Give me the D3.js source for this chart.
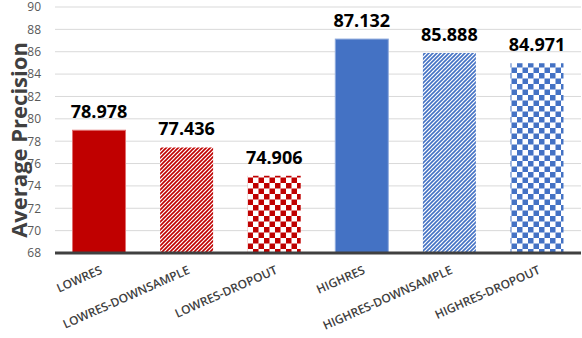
<!DOCTYPE html>
<html>
<head>
<meta charset="utf-8">
<script src="https://cdn.jsdelivr.net/npm/d3@7"></script>
<style>
  body { margin: 0; background: #fff; }
  svg { display: block; font-family: "Open Sans", "Liberation Sans", sans-serif; }
</style>
</head>
<body>
<svg id="chart" width="582" height="338"></svg>
<script>
const categories = ["LOWRES", "LOWRES-DOWNSAMPLE", "LOWRES-DROPOUT", "HIGHRES", "HIGHRES-DOWNSAMPLE", "HIGHRES-DROPOUT"];
const values = [78.978, 77.436, 74.906, 87.132, 85.888, 84.971];
const fills = ["solid", "stripe", "check", "solid", "stripe", "check"];
const groups = ["red", "red", "red", "blue", "blue", "blue"];
const yTicks = [68, 70, 72, 74, 76, 78, 80, 82, 84, 86, 88, 90];

const colors = { red: "#C00000", blue: "#4472C4" };
const edge = { red: "#E07070", blue: "#8FAADC" };

let svg = d3.select("#chart"),
  margin = { top: 7, right: 1, bottom: 85, left: 55 },
  width = 582 - margin.left - margin.right,
  height = 338 - margin.top - margin.bottom;

let defs = svg.append("defs");
Object.keys(colors).forEach(k => {
  let st = defs.append("pattern")
    .attr("id", "stripe-" + k)
    .attr("patternUnits", "userSpaceOnUse")
    .attr("width", 4).attr("height", 4);
  st.append("rect").attr("width", 4).attr("height", 4).attr("fill", "#fff");
  st.append("path")
    .attr("d", "M-1,1 l2,-2 M0,4 l4,-4 M3,5 l2,-2")
    .attr("stroke", colors[k]).attr("stroke-width", 1.6);

  let ck = defs.append("pattern")
    .attr("id", "check-" + k)
    .attr("patternUnits", "userSpaceOnUse")
    .attr("width", 11).attr("height", 11);
  ck.append("rect").attr("width", 11).attr("height", 11).attr("fill", "#fff");
  ck.append("rect").attr("width", 5.5).attr("height", 5.5).attr("fill", colors[k]);
  ck.append("rect").attr("x", 5.5).attr("y", 5.5).attr("width", 5.5).attr("height", 5.5).attr("fill", colors[k]);
});

let x = d3.scaleBand()
  .domain(categories)
  .range([0, width])
  .paddingInner(0.395)
  .paddingOuter(0.2);

let y = d3.scaleLinear().domain([68, 90]).range([height, 0]);

let g = svg.append("g").attr("transform", "translate(" + margin.left + "," + margin.top + ")");

// gridlines
g.append("g")
  .selectAll("line")
  .data(yTicks.filter(d => d > 68))
  .enter()
  .append("line")
  .attr("x1", 0).attr("x2", width)
  .attr("y1", d => y(d)).attr("y2", d => y(d))
  .attr("stroke", "#d9d9d9").attr("stroke-width", 1);

// y axis labels
g.append("g")
  .attr("class", "axis axis--y")
  .call(d3.axisLeft(y).tickValues(yTicks).tickSize(0).tickPadding(14))
  .call(a => a.select(".domain").remove())
  .selectAll("text")
  .attr("fill", "#595959")
  .style("font-size", "12px")
  .style("font-family", "'Open Sans', sans-serif");

// bars
let data = categories.map((c, i) => ({ label: c, value: values[i], fill: fills[i], group: groups[i] }));

g.selectAll(".bar")
  .data(data)
  .enter()
  .append("rect")
  .attr("class", "bar")
  .attr("x", d => x(d.label))
  .attr("y", d => y(d.value))
  .attr("width", x.bandwidth())
  .attr("height", d => height - y(d.value))
  .attr("fill", d => d.fill === "solid" ? colors[d.group] : `url(#${d.fill}-${d.group})`)
  .attr("stroke", d => d.fill === "solid" ? edge[d.group] : "none")
  .attr("stroke-width", 1);

// value labels
g.selectAll(".bar-label")
  .data(data)
  .enter()
  .append("text")
  .attr("class", "bar-label")
  .attr("x", d => x(d.label) + x.bandwidth() / 2)
  .attr("y", d => y(d.value) - 12)
  .attr("text-anchor", "middle")
  .attr("fill", "#000")
  .style("font-size", "18px")
  .style("font-weight", "bold")
  .text(d => d.value.toFixed(3));

// x axis baseline
g.append("line")
  .attr("x1", 0).attr("x2", width)
  .attr("y1", height).attr("y2", height)
  .attr("stroke", "#404040").attr("stroke-width", 3);

// x labels
g.append("g")
  .selectAll("text")
  .data(categories)
  .enter()
  .append("text")
  .attr("text-anchor", "end")
  .attr("transform", d => `translate(${x(d) + x.bandwidth() / 2 + 4},${height + 20}) rotate(-24)`)
  .attr("fill", "#404040")
  .style("font-size", "12px")
  .style("font-weight", "600")
  .text(d => d);

// y title
svg.append("text")
  .attr("transform", `translate(27,140) rotate(-90)`)
  .attr("text-anchor", "middle")
  .attr("fill", "#404040")
  .style("font-size", "22px")
  .style("font-weight", "bold")
  .text("Average Precision");
</script>
</body>
</html>
